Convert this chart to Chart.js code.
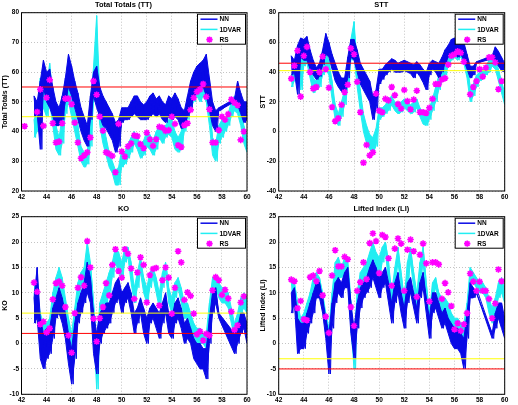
<!DOCTYPE html>
<html>
<head>
<meta charset="utf-8">
<script src="https://cdn.jsdelivr.net/npm/chart.js@4.4.1/dist/chart.umd.min.js"></script>
<style>
  body { margin: 0; background: #fff; }
  #wrap { position: relative; width: 518px; height: 405px; }
  canvas { position: absolute; }
</style>
</head>
<body>
<div id="wrap">
  <canvas id="tt" width="258" height="202" style="left:0;top:0"></canvas>
  <canvas id="stt" width="260" height="202" style="left:258px;top:0"></canvas>
  <canvas id="ko" width="258" height="201" style="left:0;top:204px"></canvas>
  <canvas id="li" width="260" height="201" style="left:258px;top:204px"></canvas>
</div>
<script>
// time axis (days), 6-hourly samples
const times = [42.25, 42.5, 42.75,
  43, 43.25, 43.5, 43.75, 44, 44.25, 44.5, 44.75, 45, 45.25, 45.5, 45.75,
  46, 46.25, 46.5, 46.75, 47, 47.25, 47.5, 47.75, 48, 48.25, 48.5, 48.75,
  49, 49.25, 49.5, 49.75, 50, 50.25, 50.5, 50.75, 51, 51.25, 51.5, 51.75,
  52, 52.25, 52.5, 52.75, 53, 53.25, 53.5, 53.75, 54, 54.25, 54.5, 54.75,
  55, 55.25, 55.5, 55.75, 56, 56.25, 56.5, 56.75, 57, 57.25, 57.5, 57.75,
  58, 58.25, 58.5, 58.75, 59, 59.25, 59.5, 59.75, 60]
const xTicks = [42, 44, 46, 48, 50, 52, 54, 56, 58, 60]
const _ = null

// Total Totals (TT)
const ttNNHi = [_, _, _,
  52, 50, 57, 64,  60, 61, 55, 50,  48, 52, 58, 66,  62, 57, 53, 48,  45, 42, 52, 60,
  62, 55, 52, 50,  48, 46, 43, 44,  48, 48, 48, 50,  52, 52, 50, 49,  50, 52, 53, 51,
  52, 50, 49, 52,  51, 53, 51, 48,  47, 52, 57, 60,  62, 63, 64, 66,  58, 50, 47, 48,
  _, _, _, _,  51, 57, 53, 50,  50]
const ttNNLo = [_, _, _,
  45, 46, 34, 55,  50, 48, 45, 42,  42, 44, 50, 55,  52, 48, 44, 40,  37, 35, 44, 52,
  48, 45, 42, 41,  39, 37, 33, 35,  43, 44, 44, 45,  46, 45, 44, 44,  44, 45, 46, 45,
  46, 44, 43, 45,  44, 45, 44, 41,  42, 45, 48, 52,  53, 54, 55, 52,  47, 42, 40, 47,
  _, _, _, _,  50, 49, 46, 43,  44]
const ttVarHi = [_, _, _,
  44, 47, 58, 55,  55, 63, 52, 42,  38, 45, 54, 58,  55, 47, 42, 35,  33, 33, 45, 62,
  79, 52, 44, 38,  33, 30, 27, 28,  34, 33, 36, 38,  40, 38, 36, 37,  40, 39, 37, 40,
  42, 41, 42, 44,  44, 40, 38, 40,  46, 50, 54, 56,  58, 58, 60, 63,  52, 38, 36, 42,
  44, 44, 46, 50,  52, 50, 47, 42,  38]
const ttVarLo = [_, _, _,
  38, 40, 45, 48,  45, 50, 42, 34,  32, 36, 46, 50,  45, 40, 35, 30,  28, 29, 35, 50,
  55, 42, 36, 32,  28, 26, 22, 22,  28, 29, 31, 33,  36, 34, 31, 32,  35, 34, 32, 34,
  38, 36, 38, 39,  38, 34, 33, 34,  40, 44, 48, 50,  52, 50, 52, 50,  42, 32, 30, 36,
  38, 40, 42, 45,  47, 46, 42, 36,  33]
const ttRS = [41.8, _, _,
  _, 46.6, 54.2, 41.9,  51.4, 57.4, 42.8, 36.3,  36.6, 42.8, 51.1, 51.1,  49.2, 43, 36.3, 31,
  32, 33, 38, 57,  52.4, 45, 40.3, 33,  32.5, 31.8, 26.3, 42.6,  33.3, 31.6, 35, 36,
  38.7, 38.5, 35.8, 34.4,  39.6, 37.4, 35.2, 37.4,  41.6, 41.3, 40.2, 40.5,  45, 42.6, 35.4, 34.8,
  42.2, 42.8, 47.3, 51.4,  53.4, 54.2, 56, 51.7,  47.5, 36.3, 36.3, 40.5,  45, 44, 45.9, 50.8,
  49.7, 48.9, 37.2, 40,  _]

// STT
const sttNNHi = [_, _, _,
  51, 48, 58, 63,  62, 64, 55, 48,  43, 46, 55, 66,  60, 52, 46, 40,  36, 36, 50, 62,
  62, 55, 46, 42,  38, 34, 24, 28,  42, 42, 45, 47,  49, 48, 46, 47,  48, 47, 46, 45,
  47, 45, 42, 40,  46, 48, 47, 46,  50, 55, 58, 62,  63, 60, 62, 60,  52, 44, 44, 47,
  _, _, _, _,  51, 57, 54, 50,  46]
const sttNNLo = [_, _, _,
  38, 40, 25, 50,  48, 48, 42, 38,  35, 37, 45, 52,  50, 42, 34, 30,  27, 28, 36, 50,
  48, 40, 32, 28,  24, 20, 8, 15,  32, 35, 38, 40,  42, 40, 40, 40,  41, 40, 39, 36,
  40, 37, 33, 28,  38, 42, 40, 36,  40, 46, 50, 52,  52, 50, 52, 48,  42, 36, 38, 46,
  _, _, _, _,  49, 48, 44, 41,  40]
const sttVarHi = [_, _, _,
  38, 42, 52, 50,  56, 60, 48, 36,  34, 40, 48, 52,  48, 34, 18, 12,  20, 28, 42, 62,
  74, 45, 28, 12,  4, -2, -4, 2,  16, 16, 18, 22,  24, 20, 18, 20,  22, 20, 18, 20,
  22, 16, 12, 10,  16, 22, 30, 38,  42, 46, 52, 56,  58, 56, 58, 56,  48, 30, 32, 38,
  40, 42, 44, 48,  52, 50, 42, 34,  26]
const sttVarLo = [_, _, _,
  30, 34, 40, 28,  44, 46, 36, 26,  28, 30, 38, 42,  38, 22, 8, 4,  10, 18, 30, 48,
  50, 30, 14, 0,  -8, -12, -14, -10,  8, 10, 12, 14,  18, 14, 12, 13,  16, 14, 12, 13,
  16, 10, 5, 4,  8, 14, 20, 28,  34, 38, 44, 48,  50, 48, 50, 46,  36, 20, 24, 30,
  34, 36, 38, 40,  44, 42, 34, 26,  18]
const sttRS = [_, _, _,
  35.6, 44.3, 54.4, 23.5,  51, 57, 40, 29,  30, 40, 50.5, 42,  29.5, 16.5, 7, 9,
  18, 26.5, 31.5, 56,  52, 33.5, 13, -21,  -9, -16, -14, 25.5,  14, 13, 22, 21,
  30, 24.5, 18.5, 15.5,  28, 20.5, 15, 21.5,  27.5, 13, 13, 12.5,  16, 22, 32, 32,
  35, 36, 45, 51,  52, 54, 53, 47,  _, 25, 30, 34,  42, 37, 43, 50,
  50, 46.5, 28.5, 34,  _]

// KO
const koNNHi = [_, _, _,
  9, 15, 5, 2,  3, 3, 7, 9,  11, 9, 6, 2,  -1, 4, 8, 10,  12, 16, 13, 6,
  2, 6, 7, 8,  8, 10, 12, 13,  10, 11, 12, 10,  6, 7, 9, 7,  5, 7, 8, 7,
  6, 8, 10, 6,  5, 8, 9, 7,  4, 5, 3, 1,  0, 0, -1, -1,  5, 10, 11, 6,
  _, _, _, _,  2, 3, 6, 6,  4]
const koNNLo = [_, _, _,
  4, 5, -3, -5,  -3, -2, 1, 5,  6, 4, 1, -4,  -8, -3, 4, 6,  8, 10, 8, -2,
  -6, 0, 2, 3,  4, 6, 8, 9,  6, 8, 9, 6,  2, 4, 6, 2,  0, 4, 5, 3,
  1, 4, 6, 2,  1, 4, 5, 3,  0, 1, 0, -3,  -4, -5, -5, -7,  0, 6, 8, 5,
  _, _, _, _,  -2, 0, 2, 3,  0]
const koVarHi = [_, _, _,
  12, 10, 6, 4,  4, 5, 10, 13,  15, 13, 9, 5,  2, 7, 12, 14,  15, 20, 16, 8,
  0, 8, 10, 12,  14, 16, 19, 18,  16, 19, 19, 16,  11, 14, 17, 13,  11, 14, 15, 13,
  10, 14, 16, 11,  9, 12, 13, 11,  8, 8, 6, 4,  3, 3, 2, 2,  8, 13, 13, 12,
  11, 11, 10, 7,  4, 6, 9, 10,  9]
const koVarLo = [_, _, _,
  10, 7, 3, 1,  1, 2, 6, 9,  11, 9, 5, 1,  -2, 3, 8, 11,  12, 15, 12, 3,
  -9, 2, 6, 8,  10, 13, 16, 14,  13, 16, 17, 12,  8, 11, 14, 10,  8, 11, 13, 10,
  7, 11, 14, 8,  6, 9, 11, 8,  5, 5, 3, 1,  0, 0, 0, -1,  4, 11, 11, 9,
  8, 8, 7, 4,  1, 3, 6, 7,  6]
const koRS = [_, _, _,
  12, 10.2, 3.8, 4.3,  2.2, 3, 8.7, 11.9,  12.2, 11.4, 7.2, 1.6,  -1.8, 6, 11, 13.1,
  11.4, 20.2, 15, 4.9,  0.4, 5, 7.2, 11.9,  9.5, 15.5, 18.6, 14.3,  13, 18.6, 17.7, 14.8,
  8.8, 14, 17, 15.5,  8.1, 13.5, 14.7, 14.9,  7.5, 12.5, 15, 13,  5.9, 11, 18.2, 16,
  8.6, 10.1, 9.4, 5.9,  1.8, 2.4, 0.6, 1.9,  1.6, 10.5, 13.1, 12.5,  9.6, 10.6, 8.9, 6.3,
  2.7, 3.6, 8.1, 9.3,  _]

// Lifted Index (LI)
const liNNHi = [_, _, _,
  10, 11, 5, 4,  4, 6, 8, 10,  12, 12, 9, 5,  2, 8, 12, 13,  12, 14, 15, 8,
  3, 8, 11, 12,  13, 15, 16.5, 15,  13, 14, 15, 12,  8, 12, 14, 10,  7, 12, 13, 10,
  7, 12, 14, 9,  5, 10, 10, 8,  6, 7, 5, 4,  3, 3, 2, 1,  6, 12, 11, 10,
  _, _, _, _,  2, 6, 8, 8,  5]
const liNNLo = [_, _, _,
  6, 8, -2, -1,  -1, 2, 4, 6,  9, 9, 6, 1,  -6, 3, 8, 10,  9, 11, 11, 2,
  -3, 3, 7, 9,  10, 11, 13, 11,  9, 11, 12, 8,  4, 8, 10, 6,  3, 8, 10, 7,
  4, 9, 11, 6,  1, 6, 7, 5,  3, 4, 2, 0,  -1, -1, -2, -5,  1, 9, 9, 10,
  _, _, _, _,  1, 3, 5, 3,  1]
const liVarHi = [_, _, _,
  12, 12, 8, 5,  6, 8, 10, 13,  14, 13, 10, 6,  3, 10, 16, 17,  15, 17, 16, 8,
  1, 10, 14, 15,  16, 18, 20, 18,  17, 19, 20, 16,  10, 15, 19, 14,  9, 16, 19, 14,
  10, 16, 19, 12,  6, 12, 13, 10,  9, 9, 8, 6,  5, 5, 4, 4,  8, 15, 14, 13,
  12, 12, 11, 9,  7, 9, 12, 13,  11]
const liVarLo = [_, _, _,
  10, 10, 5, 2,  3, 5, 7, 10,  11, 11, 7, 3,  1, 6, 11, 13,  13, 14, 13, 3,
  -5, 5, 10, 12,  13, 15, 17, 15,  13, 16, 18, 12,  7, 12, 16, 11,  6, 12, 16, 11,
  7, 12, 16, 9,  3, 9, 11, 8,  6, 7, 5, 3,  2, 2, 2, 0,  4, 12, 12, 11,
  10, 10, 9, 6,  4, 6, 9, 10,  8]
const liRS = [_, _, _,
  12.6, 12.3, 7, 8.4,  4.8, 4.6, 13.1, 13.4,  12.3, 14.3, 9.5, 5.3,  2.1, 13.4, 18.4, 15.2,
  15.2, 17.1, 16.6, 7.2,  3.5, 10.4, 12.1, 16,  12.7, 19.8, 21.7, 20.2,  13.9, 21.4, 21, 16.8,
  11.4, 18.7, 20.7, 19.7,  10.4, 18.5, 20.5, 18.2,  9.2, 17.5, 19.7, 15.8,  8.3, 16, 16, 15.6,
  8.8, 11.9, 10.1, 7.4,  2.8, 4, 2.5, 3.8,  6, 13.8, 12.2, 10.4,  12.2, 10.4, 10.4, 8.8,
  5, 7.9, 14.6, 12.3,  _]

// threshold lines [red, yellow]
const ttLimits = [55, 45]
const sttLimits = [46, 41]
const koLimits = [2, 6]
const liLimits = [-5, -3]

const FONT = 'Arial, "Liberation Sans", Helvetica, sans-serif'
const NN_COLOR = '#0a0ae6'
const VAR_COLOR = '#22eef2'
const RS_COLOR = '#ff00ff'

function series(vals) {
    return times.map((t, i) => ({ x: t, y: vals[i] }))
}

// zigzag between the upper and lower envelope, gives the noisy texture
function zigzag(hi, lo) {
    const pts = []
    times.forEach((t, i) => {
        pts.push({ x: t, y: hi[i] })
        pts.push({ x: t + 0.125, y: lo[i] })
    })
    return pts
}

function flatLine(v) {
    return [{ x: xTicks[0], y: v }, { x: xTicks[xTicks.length - 1], y: v }]
}

function drawStar(ctx, cx, cy, r) {
    ctx.beginPath()
    for (let a = 0; a < 4; a++) {
        const ang = a * Math.PI / 4
        ctx.moveTo(cx - r * Math.cos(ang), cy - r * Math.sin(ang))
        ctx.lineTo(cx + r * Math.cos(ang), cy + r * Math.sin(ang))
    }
    ctx.stroke()
}

// frame around the axes and the boxed legend (matlab style)
const boxLegend = {
    id: 'boxLegend',
    afterDatasetsDraw(chart) {
        const { ctx, chartArea } = chart
        ctx.save()
        ctx.strokeStyle = '#000'
        ctx.lineWidth = 1
        ctx.strokeRect(chartArea.left, chartArea.top, chartArea.right - chartArea.left, chartArea.bottom - chartArea.top)

        const w = 48, h = 30
        const x = chartArea.right - w - 1.5
        const y = chartArea.top + 1.5
        ctx.fillStyle = '#fff'
        ctx.fillRect(x, y, w, h)
        ctx.strokeRect(x, y, w, h)

        const items = chart.data.datasets.filter(d => d.legendRow !== undefined)
            .sort((a, b) => a.legendRow - b.legendRow)
        ctx.font = 'bold 6.5px ' + FONT
        ctx.textBaseline = 'middle'
        items.forEach((d, k) => {
            const ry = y + 5 + k * 10.2
            if (d.showLine === false) {
                ctx.strokeStyle = RS_COLOR
                ctx.lineWidth = 1.6
                drawStar(ctx, x + 12, ry, 3.2)
            } else {
                ctx.strokeStyle = d.borderColor
                ctx.lineWidth = 1.5
                ctx.beginPath()
                ctx.moveTo(x + 3, ry)
                ctx.lineTo(x + 20, ry)
                ctx.stroke()
            }
            ctx.fillStyle = '#000'
            ctx.fillText(d.label, x + 22, ry + 0.5)
        })
        ctx.restore()
    }
}

function makePanel(id, opt) {
    const ctx = document.getElementById(id)
    new Chart(ctx, {
        type: 'line',
        data: {
            datasets: [
                {
                    label: 'RS', legendRow: 2, data: series(opt.rs),
                    showLine: false, pointStyle: 'star', pointRadius: 3.3, borderWidth: 1.6,
                    borderColor: RS_COLOR, backgroundColor: RS_COLOR, order: 0
                },
                {
                    label: 'red', data: flatLine(opt.limits[0]), borderColor: '#ff0000',
                    borderWidth: 1, pointRadius: 0, order: 1
                },
                {
                    label: 'yellow', data: flatLine(opt.limits[1]), borderColor: '#ffff00',
                    borderWidth: 1, pointRadius: 0, order: 1
                },
                {
                    label: 'NN', legendRow: 0, data: zigzag(opt.nnHi, opt.nnLo), borderColor: NN_COLOR,
                    borderWidth: 1, pointRadius: 0, spanGaps: true, order: 2
                },
                {
                    label: 'NN hi', data: series(opt.nnHi), borderColor: NN_COLOR, backgroundColor: NN_COLOR,
                    borderWidth: 1, pointRadius: 0, spanGaps: true, fill: '+1', order: 3
                },
                {
                    label: 'NN lo', data: series(opt.nnLo), borderColor: NN_COLOR,
                    borderWidth: 1, pointRadius: 0, spanGaps: true, order: 3
                },
                {
                    label: '1DVAR', legendRow: 1, data: zigzag(opt.varHi, opt.varLo), borderColor: VAR_COLOR,
                    borderWidth: 1, pointRadius: 0, spanGaps: true, order: 4
                },
                {
                    label: '1DVAR hi', data: series(opt.varHi), borderColor: VAR_COLOR, backgroundColor: VAR_COLOR,
                    borderWidth: 1, pointRadius: 0, spanGaps: true, fill: '+1', order: 5
                },
                {
                    label: '1DVAR lo', data: series(opt.varLo), borderColor: VAR_COLOR,
                    borderWidth: 1, pointRadius: 0, spanGaps: true, order: 5
                }
            ]
        },
        options: {
            responsive: false,
            animation: false,
            events: [],
            layout: { padding: { left: 0, top: 0, bottom: 0, right: opt.right } },
            plugins: {
                legend: { display: false },
                tooltip: { enabled: false },
                title: {
                    display: true, text: opt.title, color: '#000',
                    font: { family: FONT, size: 7.5, weight: 'bold', lineHeight: 1.2 },
                    padding: { top: 0, bottom: 3.7 }
                }
            },
            scales: {
                x: {
                    type: 'linear', min: xTicks[0], max: xTicks[xTicks.length - 1],
                    afterBuildTicks: s => { s.ticks = xTicks.map(v => ({ value: v })) },
                    afterFit: s => { s.height = opt.xh },
                    ticks: { color: '#000', font: { family: FONT, size: 6.5, weight: 'bold' }, padding: 2, maxRotation: 0, autoSkip: false },
                    grid: { color: '#c4c4c4', drawTicks: false, lineWidth: 1 },
                    border: { display: false, dash: [1, 2] }
                },
                y: {
                    min: opt.yMin, max: opt.yMax,
                    afterFit: s => { s.width = opt.yw },
                    ticks: { stepSize: opt.yStep, color: '#000', font: { family: FONT, size: 6.5, weight: 'bold' }, padding: 2.5 },
                    grid: { color: '#c4c4c4', drawTicks: false, lineWidth: 1 },
                    border: { display: false, dash: [1, 2] },
                    title: {
                        display: true, text: opt.yTitle, color: '#000',
                        font: { family: FONT, size: 7, weight: 'bold', lineHeight: 1.2 },
                        padding: { top: 1, bottom: 0 }
                    }
                }
            }
        },
        plugins: [boxLegend]
    })
}

makePanel('tt', {
    title: 'Total Totals (TT)', yTitle: 'Total Totals (TT)', yMin: 20, yMax: 80, yStep: 10,
    nnHi: ttNNHi, nnLo: ttNNLo, varHi: ttVarHi, varLo: ttVarLo, rs: ttRS, limits: ttLimits,
    yw: 21.5, xh: 11, right: 11
})
makePanel('stt', {
    title: 'STT', yTitle: 'STT', yMin: -40, yMax: 80, yStep: 20,
    nnHi: sttNNHi, nnLo: sttNNLo, varHi: sttVarHi, varLo: sttVarLo, rs: sttRS, limits: sttLimits,
    yw: 20.7, xh: 11, right: 13.3
})
makePanel('ko', {
    title: 'KO', yTitle: 'KO', yMin: -10, yMax: 25, yStep: 5,
    nnHi: koNNHi, nnLo: koNNLo, varHi: koVarHi, varLo: koVarLo, rs: koRS, limits: koLimits,
    yw: 21.5, xh: 10.7, right: 11
})
makePanel('li', {
    title: 'Lifted Index (LI)', yTitle: 'Lifted Index (LI)', yMin: -10, yMax: 25, yStep: 5,
    nnHi: liNNHi, nnLo: liNNLo, varHi: liVarHi, varLo: liVarLo, rs: liRS, limits: liLimits,
    yw: 20.7, xh: 10.7, right: 13.3
})
</script>
</body>
</html>
